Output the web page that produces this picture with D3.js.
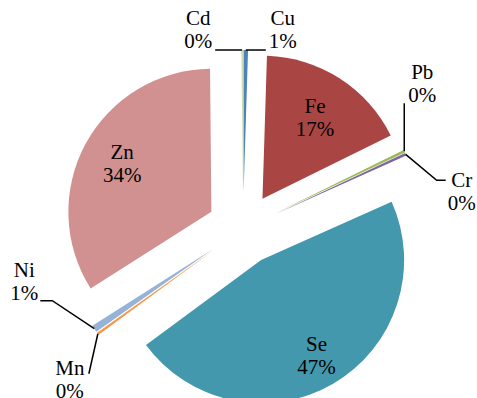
<!DOCTYPE html>
<html>
<head>
<meta charset="utf-8">
<script src="https://cdn.jsdelivr.net/npm/d3@7"></script>
</head>
<body style="margin:0">
<svg id="chart" width="477" height="398"></svg>
<script>
// Share of each metal (percent), clockwise from 12 o'clock
const categories = ["Cu", "Fe", "Pb", "Cr", "Se", "Mn", "Ni", "Zn", "Cd"];
const values     = [0.5, 17.2, 0.3, 0.3, 46.6, 0.3, 0.8, 33.85, 0.15];
const colors     = ["#4F81BD", "#A94643", "#9BBB59", "#8064A2", "#4398AE",
                    "#F79646", "#95B3D7", "#D19190", "#C3D69B"];

const cx = 243, cy = 229;      // pie centre
const R = 143;                 // slice radius
const explode = 36;            // every slice pulled out along its bisector
const fontSize = 21, lineGap = 23;

const svg = d3.select("#chart");
const total = d3.sum(values);
const pct = v => Math.round(v / total * 100) + "%";

const pie = d3.pie().sort(null).value(d => d.value);
const arc = d3.arc().innerRadius(0).outerRadius(R);

const data = categories.map((c, i) => ({ name: c, value: values[i], color: colors[i] }));
const arcs = pie(data);

const mid = a => (a.startAngle + a.endAngle) / 2;
const dir = a => [Math.sin(mid(a)), -Math.cos(mid(a))];
const apex = a => { const [dx, dy] = dir(a); return [cx + explode * dx, cy + explode * dy]; };

// slices
svg.selectAll("path.slice")
  .data(arcs)
  .join("path")
  .attr("class", "slice")
  .attr("transform", d => `translate(${apex(d)})`)
  .attr("d", arc)
  .attr("fill", d => d.data.color);

// leader lines for the thin slices
// path: offsets from the slice's outer point; tx/ty: label offset from the leader end
const leaders = {
  Cd: { path: [[-27, 0]],               tx: -17, ty: -25 },
  Cu: { path: [[20, 0]],                tx: 17,  ty: -25 },
  Pb: { path: [[0, -48]],               tx: 18,  ty: -24 },
  Cr: { path: [[31, 26], [40, 26]],     tx: 16,  ty: 7 },
  Mn: { path: [[-9, 40]],               tx: -19, ty: 1 },
  Ni: { path: [[-42, -28], [-54, -28]], tx: -16, ty: -24 }
};
const insideK = { Fe: 0.68, Se: 0.77, Zn: 0.71 };

// label anchor for every slice
const labelPos = [];
arcs.forEach(d => {
  const [ax, ay] = apex(d), [dx, dy] = dir(d);
  if (d.data.value / total >= 0.05) {
    const k = insideK[d.data.name] || 0.7;
    labelPos.push({ d, x: ax + dx * R * k, y: ay + dy * R * k - 4 });
  } else {
    const L = leaders[d.data.name];
    const o = [ax + dx * R, ay + dy * R];
    const pts = [o].concat(L.path.map(p => [o[0] + p[0], o[1] + p[1]]));
    svg.append("path")
      .attr("d", d3.line()(pts))
      .attr("fill", "none").attr("stroke", "#000").attr("stroke-width", 1.5);
    const end = pts[pts.length - 1];
    labelPos.push({ d, x: end[0] + L.tx, y: end[1] + L.ty });
  }
});

// two-line labels: name above, percentage below
labelPos.forEach(p => {
  [p.d.data.name, pct(p.d.data.value)].forEach((s, i) => {
    svg.append("text")
      .attr("x", p.x).attr("y", p.y + i * lineGap)
      .style("font-family", '"Liberation Serif"')
      .style("font-size", fontSize + "px")
      .style("text-anchor", "middle")
      .text(s);
  });
});
</script>
</body>
</html>
